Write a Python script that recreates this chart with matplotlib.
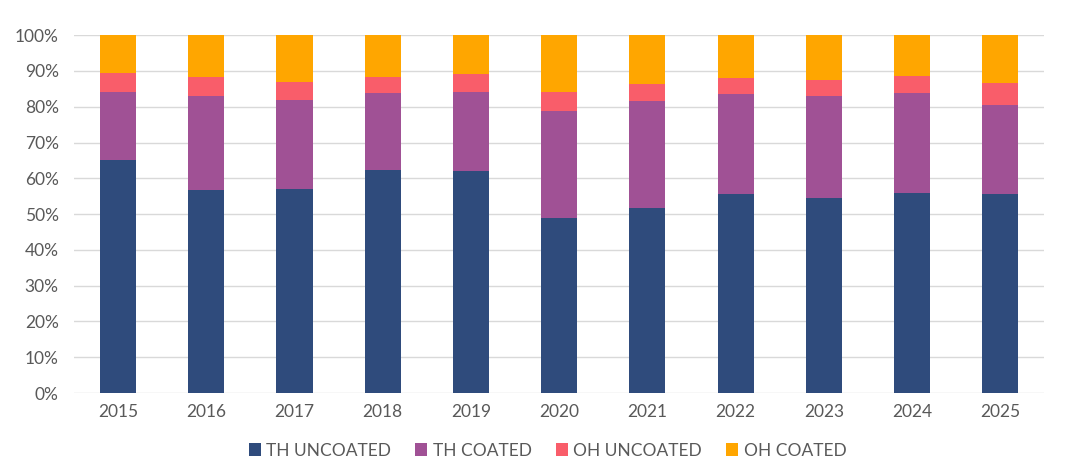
import matplotlib.pyplot as plt
import numpy as np
from matplotlib.ticker import PercentFormatter

years = ["2015", "2016", "2017", "2018", "2019", "2020", "2021", "2022", "2023", "2024", "2025"]
th_uncoated = [65.1, 56.7, 57.1, 62.3, 62.1, 48.8, 51.8, 55.7, 54.5, 55.9, 55.6]
th_coated = [19.0, 26.3, 24.7, 21.5, 22.1, 30.0, 29.8, 27.8, 28.4, 28.0, 24.9]
oh_uncoated = [5.2, 5.2, 5.2, 4.6, 5.0, 5.3, 4.8, 4.4, 4.5, 4.6, 6.0]
oh_coated = [10.7, 11.8, 13.0, 11.6, 10.8, 15.9, 13.6, 12.1, 12.6, 11.5, 13.5]

series = [
    ("TH UNCOATED", th_uncoated, "#2F4B7C"),
    ("TH COATED", th_coated, "#A05195"),
    ("OH UNCOATED", oh_uncoated, "#F95D6A"),
    ("OH COATED", oh_coated, "#FFA600"),
]

plt.rcParams["font.family"] = ["Lato", "DejaVu Sans"]

fig = plt.figure(figsize=(10.8, 4.69), dpi=100)
ax = fig.add_axes([0.0685, 0.162, 0.8985, 0.763])

x = np.arange(len(years))
bottom = np.zeros(len(years))
for name, vals, color in series:
    vals = np.array(vals)
    ax.bar(x, vals, 0.41, bottom=bottom, color=color, label=name, zorder=3)
    bottom += vals

ax.set_xlim(-0.5, len(years) - 0.5)
ax.set_ylim(0, 100)
ax.set_yticks(np.arange(0, 101, 10))
ax.yaxis.set_major_formatter(PercentFormatter(decimals=0))
ax.set_xticks(x)
ax.set_xticklabels(years)
ax.grid(axis="y", color="#D9D9D9", linewidth=1, zorder=0)
for s in ax.spines.values():
    s.set_visible(False)
ax.tick_params(length=0, labelsize=12.5, colors="#595959", pad=8)
ax.tick_params(axis="y", pad=11)

ax.legend(loc="upper center", bbox_to_anchor=(0.488, -0.095), ncol=4, frameon=False,
          fontsize=12.5, labelcolor="#595959", handlelength=0.7, handleheight=0.7,
          handletextpad=0.3, columnspacing=1.4)

fig.savefig("out.png", dpi=100)
